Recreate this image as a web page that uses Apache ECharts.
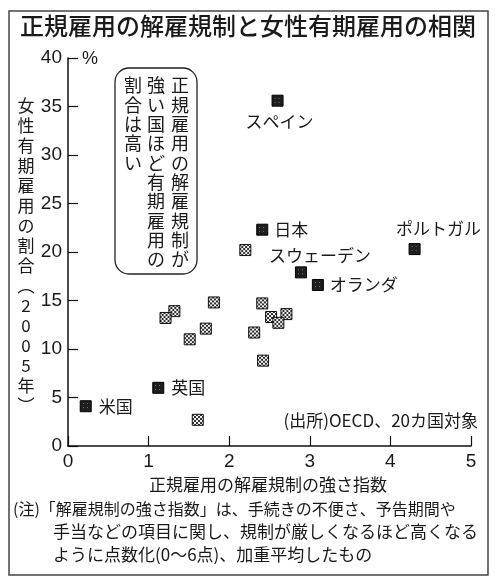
<!DOCTYPE html>
<html><head><meta charset="utf-8">
<script src="https://cdn.jsdelivr.net/npm/echarts@6/dist/echarts.min.js"></script>
<style>html,body{margin:0;padding:0;background:#fff}#c{width:500px;height:580px}</style>
</head><body><div id="c"></div>
<script>
// ---- data ----
const titleText = '正規雇用の解雇規制と女性有期雇用の相関';
const highlightedNames = ['スペイン', '日本', 'スウェーデン', 'ポルトガル', 'オランダ', '英国', '米国'];
const highlightedX = [2.6, 2.41, 2.89, 4.3, 3.1, 1.12, 0.22];
const highlightedY = [35.6, 22.3, 17.9, 20.3, 16.6, 6.0, 4.1];
const otherX = [2.2, 1.81, 1.32, 1.21, 1.71, 1.51, 2.41, 2.52, 2.71, 2.61, 2.31, 2.42, 1.61];
const otherY = [20.2, 14.8, 13.9, 13.2, 12.1, 11.0, 14.7, 13.3, 13.6, 12.7, 11.7, 8.8, 2.7];
const xTicks = [0, 1, 2, 3, 4, 5];
const yTicks = [0, 5, 10, 15, 20, 25, 30, 35, 40];
const yUnit = '%';
const xAxisName = '正規雇用の解雇規制の強さ指数';
const yAxisNameChars = ['女','性','有','期','雇','用','の','割','合','︵','2','0','0','5','年','︶'];
const noteColumns = ['正規雇用の解雇規制が', '強い国ほど有期雇用の', '割合は高い'];
const sourceText = '(出所)OECD、20カ国対象';
const footnoteLines = [
  '(注)「解雇規制の強さ指数」は、手続きの不便さ、予告期間や',
  '手当などの項目に関し、規制が厳しくなるほど高くなる',
  'ように点数化(0〜6点)、加重平均したもの'
];

// ---- styles ----
const JP = "'Noto Sans CJK JP', sans-serif";
const NUM = "'Liberation Sans Narrow', 'Liberation Sans', sans-serif";
const INK = '#1a1a1a';
const labelStyle = {
  'スペイン': { position: 'bottom', distance: 6, offset: [2, 0] },
  '日本': { position: 'right', distance: 6 },
  'スウェーデン': { position: 'top', distance: 2, offset: [19, 0] },
  'ポルトガル': { position: 'top', distance: 6, offset: [24, 0] },
  'オランダ': { position: 'right', distance: 6 },
  '英国': { position: 'right', distance: 7 },
  '米国': { position: 'right', distance: 7 }
};

// fine textures for the square markers (symbols are drawn scaled ~5.5x, so the pattern is scaled down)
function makePattern(bg, fg, cells) {
  const cv = document.createElement('canvas');
  cv.width = 8; cv.height = 8;
  const ctx = cv.getContext('2d');
  ctx.fillStyle = bg; ctx.fillRect(0, 0, 8, 8);
  ctx.fillStyle = fg;
  cells.forEach(c => ctx.fillRect(c[0], c[1], c[2], c[3]));
  return { image: cv, repeat: 'repeat', scaleX: 0.09, scaleY: 0.09 };
}
const checkerFill = makePattern('#f0f0f0', '#333333', [[0, 0, 4, 4], [4, 4, 4, 4]]);
const darkFill = makePattern('#1e1e1e', '#707070', [[2, 2, 2, 2]]);

const hiData = highlightedNames.map((n, i) => ({
  name: n,
  value: [highlightedX[i], highlightedY[i]],
  label: Object.assign({ show: true, formatter: '{b}' }, labelStyle[n])
}));
const otherData = otherX.map((x, i) => [x, otherY[i]]);

const gridLeft = 68, gridTop = 58, gridRight = 29, gridBottom = 134;

const graphics = [];
graphics.push({ type: 'rect', shape: { x: 9, y: 11, width: 479, height: 564 },
  style: { fill: 'none', stroke: '#444', lineWidth: 1.5 }, silent: true });
graphics.push({ type: 'text', left: 20, top: 14,
  style: { text: titleText, font: '500 24px ' + JP, fill: INK } });
graphics.push({ type: 'text', x: 82, y: 59,
  style: { text: yUnit, font: '18px ' + NUM, fill: INK, verticalAlign: 'middle' } });
graphics.push({ type: 'text', x: 26, y: 96,
  style: { text: yAxisNameChars.join('\n'), font: '17px ' + JP, lineHeight: 20,
    fill: INK, align: 'center', verticalAlign: 'top' } });
graphics.push({ type: 'rect', shape: { x: 115, y: 68, width: 82, height: 206, r: 14 },
  style: { fill: '#fff', stroke: '#222', lineWidth: 1.3 } });
const colX = [180, 156, 133];
noteColumns.forEach((c, i) => {
  graphics.push({ type: 'text', x: colX[i], y: 76,
    style: { text: c.split('').join('\n'), font: '18px ' + JP, lineHeight: 19.3,
      fill: INK, align: 'center', verticalAlign: 'top' } });
});
graphics.push({ type: 'text', x: 478, y: 421,
  style: { text: sourceText, font: '17px ' + JP, fill: INK, align: 'right', verticalAlign: 'middle' } });
graphics.push({ type: 'text', x: 268, y: 485,
  style: { text: xAxisName, font: '17px ' + JP, fill: INK, align: 'center', verticalAlign: 'middle' } });
const fnX = [13, 53, 53], fnY = [509, 532, 555], fnSize = [16, 17, 17];
footnoteLines.forEach((t, i) => {
  graphics.push({ type: 'text', x: fnX[i], y: fnY[i],
    style: { text: t, font: fnSize[i] + 'px ' + JP, fill: INK, verticalAlign: 'middle' } });
});

const axisCommon = {
  type: 'value',
  axisLine: { show: true, lineStyle: { color: '#111', width: 1.5 } },
  axisTick: { show: true, inside: true, length: 10, lineStyle: { color: '#111', width: 1.2 } },
  splitLine: { show: false },
  axisLabel: { color: INK, fontSize: 19, fontFamily: NUM }
};

const chart = echarts.init(document.getElementById('c'), null, { renderer: 'canvas' });
chart.setOption({
  backgroundColor: '#fff',
  animation: false,
  grid: { left: gridLeft, right: gridRight, top: gridTop, bottom: gridBottom, containLabel: false },
  xAxis: Object.assign({}, axisCommon, { min: xTicks[0], max: xTicks[xTicks.length - 1], interval: 1,
    axisLabel: Object.assign({}, axisCommon.axisLabel, { margin: 6 }) }),
  yAxis: Object.assign({}, axisCommon, { min: yTicks[0], max: yTicks[yTicks.length - 1], interval: 5,
    axisLabel: Object.assign({}, axisCommon.axisLabel, { margin: 6 }) }),
  series: [
    {
      type: 'scatter', symbol: 'rect', symbolSize: 11, data: otherData,
      itemStyle: { color: checkerFill, borderColor: '#111', borderWidth: 1, opacity: 1 },
      emphasis: { disabled: true }
    },
    {
      type: 'scatter', symbol: 'rect', symbolSize: 11, data: hiData,
      itemStyle: { color: darkFill, borderColor: '#000', borderWidth: 1, opacity: 1 },
      label: { color: INK, fontSize: 17, fontFamily: JP },
      emphasis: { disabled: true }
    }
  ],
  graphic: graphics
});
</script></body></html>
